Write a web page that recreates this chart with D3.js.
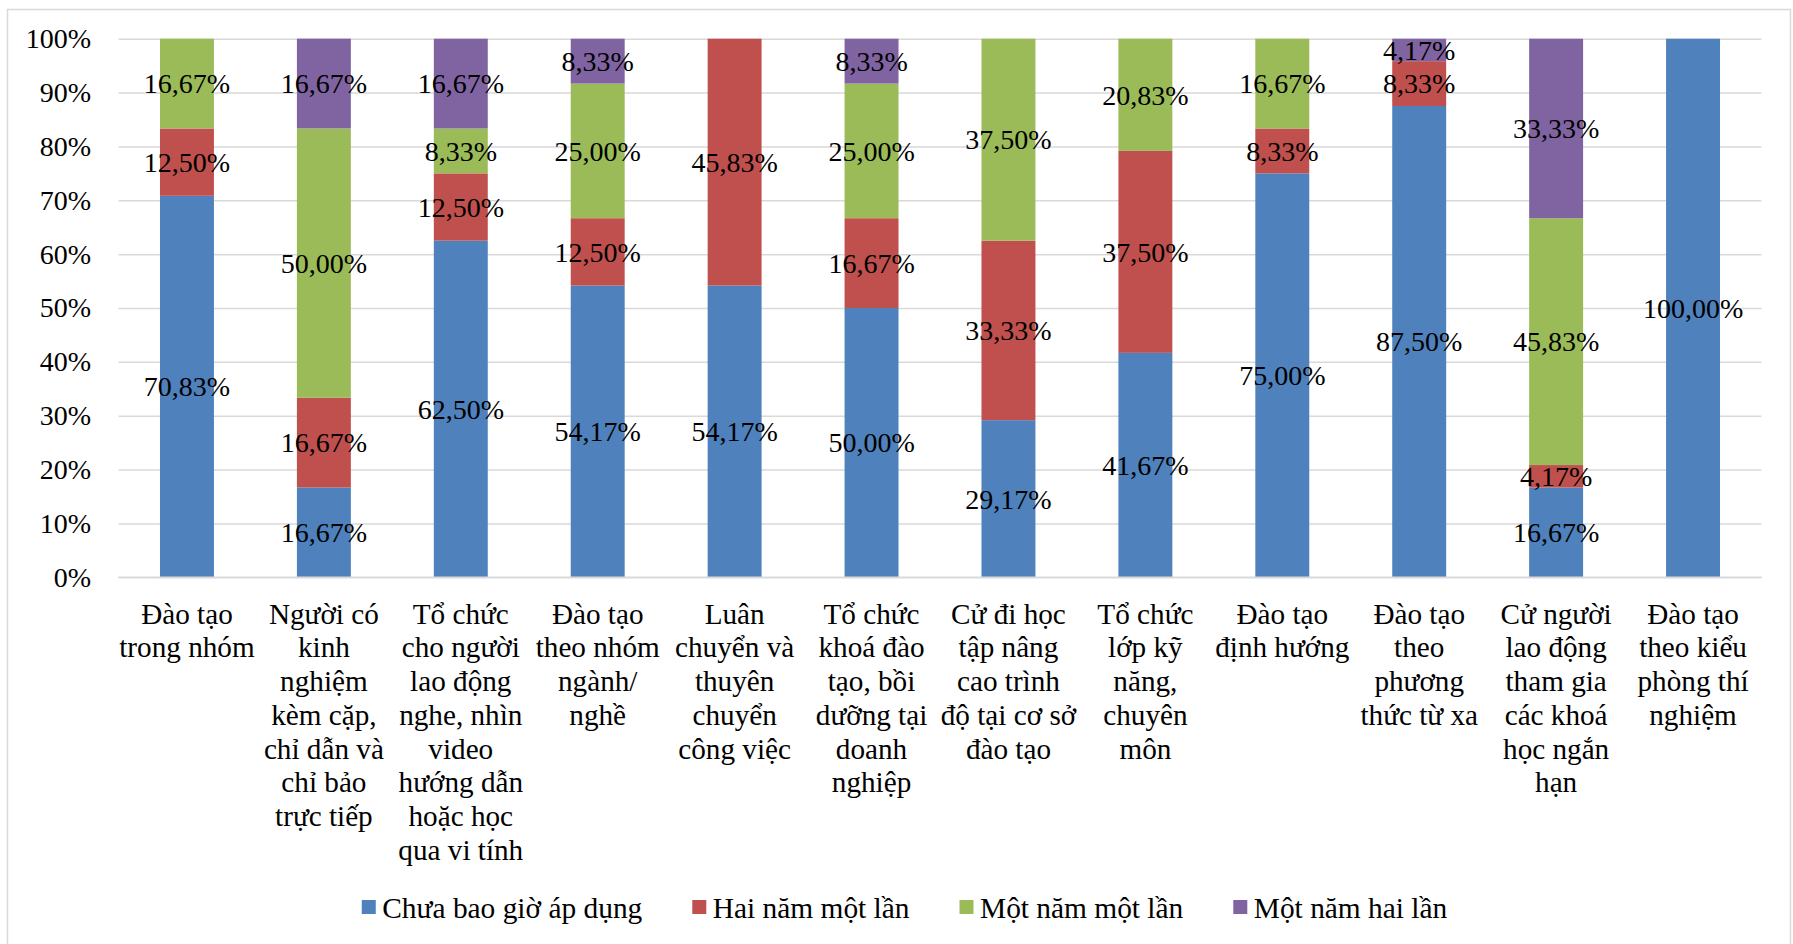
<!DOCTYPE html>
<html>
<head>
<meta charset="utf-8">
<script src="https://cdn.jsdelivr.net/npm/d3@7"></script>
<style>
  html, body { margin: 0; padding: 0; background: #fff; }
  svg { display: block; }
  text { font-family: "Liberation Serif", "Times New Roman", serif; fill: #000; }
</style>
</head>
<body>
<svg id="chart" width="1793" height="944"></svg>
<script>
// Training methods (each label split into its wrapped lines)
const categories = [
  ["Đào tạo", "trong nhóm"],
  ["Người có", "kinh", "nghiệm", "kèm cặp,", "chỉ dẫn và", "chỉ bảo", "trực tiếp"],
  ["Tổ chức", "cho người", "lao động", "nghe, nhìn", "video", "hướng dẫn", "hoặc học", "qua vi tính"],
  ["Đào tạo", "theo nhóm", "ngành/", "nghề"],
  ["Luân", "chuyển và", "thuyên", "chuyển", "công việc"],
  ["Tổ chức", "khoá đào", "tạo, bồi", "dưỡng tại", "doanh", "nghiệp"],
  ["Cử đi học", "tập nâng", "cao trình", "độ tại cơ sở", "đào tạo"],
  ["Tổ chức", "lớp kỹ", "năng,", "chuyên", "môn"],
  ["Đào tạo", "định hướng"],
  ["Đào tạo", "theo", "phương", "thức từ xa"],
  ["Cử người", "lao động", "tham gia", "các khoá", "học ngắn", "hạn"],
  ["Đào tạo", "theo kiểu", "phòng thí", "nghiệm"]
];

const seriesNames = ["Chưa bao giờ áp dụng", "Hai năm một lần", "Một năm một lần", "Một năm hai lần"];
const seriesColors = ["#4F81BD", "#C0504D", "#9BBB59", "#8064A2"];

// Percentages per series, in category order
const neverApplied  = [70.83, 16.67, 62.50, 54.17, 54.17, 50.00, 29.17, 41.67, 75.00, 87.50, 16.67, 100.00];
const everyTwoYears = [12.50, 16.67, 12.50, 12.50, 45.83, 16.67, 33.33, 37.50,  8.33,  8.33,  4.17,   0];
const oncePerYear   = [16.67, 50.00,  8.33, 25.00,  0,    25.00, 37.50, 20.83, 16.67,  0,    45.83,   0];
const twicePerYear  = [ 0,    16.67, 16.67,  8.33,  0,     8.33,  0,     0,     0,     4.17, 33.33,   0];

const yTicks = [0, 10, 20, 30, 40, 50, 60, 70, 80, 90, 100];

const svg = d3.select("#chart");
const FONT = 28;
const CAT_FONT = 29.2;
const LEGEND_FONT = 29.4;

// outer chart frame
svg.append("rect")
  .attr("x", 7.5).attr("y", 9.5)
  .attr("width", 1783).attr("height", 960)
  .attr("fill", "none").attr("stroke", "#D9D9D9").attr("stroke-width", 1.5);

const plot = { left: 118.5, right: 1761.5, top: 38.7, bottom: 577.3 };

const x = d3.scaleBand()
  .domain(d3.range(categories.length))
  .range([plot.left, plot.right])
  .paddingInner(0.606)
  .paddingOuter(0.303);

const y = d3.scaleLinear().domain([0, 100]).range([plot.bottom, plot.top]);

// y axis with gridlines
const yAxis = d3.axisLeft(y)
  .tickValues(yTicks)
  .tickFormat(d => d + "%")
  .tickSizeInner(-(plot.right - plot.left))
  .tickSizeOuter(0)
  .tickPadding(27.5);

const gy = svg.append("g").attr("transform", `translate(${plot.left},0)`).call(yAxis);
gy.select(".domain").remove();
gy.selectAll(".tick line").attr("stroke", "#D9D9D9").attr("stroke-width", 1.5);
gy.selectAll(".tick text")
  .attr("font-size", FONT)
  .style("font-family", "'Liberation Serif', 'Times New Roman', serif")
  .attr("fill", "#000");

// stacked data
const rows = categories.map((c, i) => ({
  i,
  s0: neverApplied[i], s1: everyTwoYears[i], s2: oncePerYear[i], s3: twicePerYear[i]
}));
const keys = ["s0", "s1", "s2", "s3"];
const stacked = d3.stack().keys(keys)(rows);

const layers = svg.append("g").selectAll("g")
  .data(stacked)
  .join("g")
  .attr("fill", (d, k) => seriesColors[k]);

layers.selectAll("rect")
  .data(d => d)
  .join("rect")
  .attr("x", d => x(d.data.i))
  .attr("width", x.bandwidth())
  .attr("y", d => y(d[1]))
  .attr("height", d => y(d[0]) - y(d[1]));

// value labels centred in each segment
const fmt = v => v.toFixed(2).replace(".", ",") + "%";
const labels = svg.append("g");
stacked.forEach(layer => {
  layer.forEach(d => {
    const v = d[1] - d[0];
    if (v <= 0) return;
    labels.append("text")
      .attr("x", x(d.data.i) + x.bandwidth() / 2)
      .attr("y", y((d[0] + d[1]) / 2))
      .attr("dy", "0.35em")
      .attr("text-anchor", "middle")
      .attr("font-size", FONT)
      .text(fmt(v));
  });
});

// x axis: baseline plus wrapped category labels
svg.append("line")
  .attr("x1", plot.left).attr("x2", plot.right)
  .attr("y1", plot.bottom).attr("y2", plot.bottom)
  .attr("stroke", "#D9D9D9").attr("stroke-width", 1.5);

const xAxis = d3.axisBottom(x).tickSize(0).tickFormat("");
const gx = svg.append("g").attr("transform", `translate(0,${plot.bottom})`).call(xAxis);
gx.select(".domain").remove();
gx.selectAll(".tick").each(function(i) {
  const t = d3.select(this).append("text")
    .attr("text-anchor", "middle")
    .attr("font-size", CAT_FONT)
    .attr("fill", "#000");
  categories[i].forEach((line, j) => {
    t.append("tspan").attr("x", 0).attr("y", 46.5 + j * 33.7).text(line);
  });
});

// legend, centred under the chart
const legend = svg.append("g");
const items = seriesNames.map((name, k) => {
  const g = legend.append("g");
  g.append("rect").attr("width", 14).attr("height", 14).attr("y", -18).attr("fill", seriesColors[k]);
  const t = g.append("text").attr("x", 20.5).attr("y", 0).attr("font-size", LEGEND_FONT).text(name);
  return { g, w: 20.5 + t.node().getComputedTextLength() };
});
const gap = 50;
const total = d3.sum(items, d => d.w) + gap * (items.length - 1);
let cx = 904.5 - total / 2;
items.forEach(it => {
  it.g.attr("transform", `translate(${cx},918)`);
  cx += it.w + gap;
});
</script>
</body>
</html>
